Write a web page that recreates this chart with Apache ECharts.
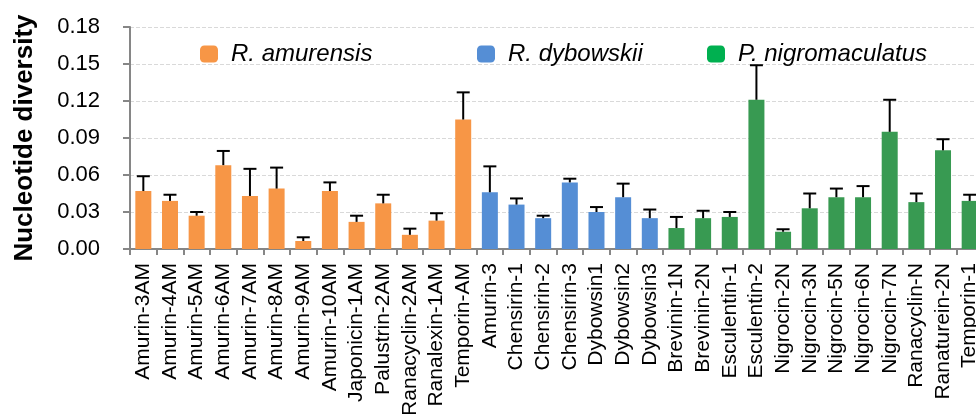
<!DOCTYPE html>
<html>
<head>
<meta charset="utf-8">
<script src="https://cdn.jsdelivr.net/npm/echarts@6/dist/echarts.min.js"></script>
<style>
  html, body { margin: 0; padding: 0; background: #fff; }
  #chart { width: 976px; height: 414px; }
</style>
</head>
<body>
<div id="chart"></div>
<script>
// Antimicrobial peptide genes, grouped by species
const amurensisGenes = ['Amurin-3AM', 'Amurin-4AM', 'Amurin-5AM', 'Amurin-6AM', 'Amurin-7AM', 'Amurin-8AM',
  'Amurin-9AM', 'Amurin-10AM', 'Japonicin-1AM', 'Palustrin-2AM', 'Ranacyclin-2AM', 'Ranalexin-1AM', 'Temporin-AM'];
const dybowskiiGenes = ['Amurin-3', 'Chensirin-1', 'Chensirin-2', 'Chensirin-3', 'Dybowsin1', 'Dybowsin2', 'Dybowsin3'];
const nigroGenes = ['Brevinin-1N', 'Brevinin-2N', 'Esculentin-1', 'Esculentin-2', 'Nigrocin-2N', 'Nigrocin-3N',
  'Nigrocin-5N', 'Nigrocin-6N', 'Nigrocin-7N', 'Ranacyclin-N', 'Ranaturein-2N', 'Temporin-1'];

// Mean nucleotide diversity per gene
const amurensisPi = [0.047, 0.039, 0.027, 0.068, 0.043, 0.049, 0.0065, 0.047, 0.022, 0.037, 0.0115, 0.023, 0.105];
const dybowskiiPi = [0.046, 0.036, 0.025, 0.054, 0.030, 0.042, 0.025];
const nigroPi = [0.017, 0.025, 0.026, 0.121, 0.014, 0.033, 0.042, 0.042, 0.095, 0.038, 0.080, 0.039];

// Upper error (standard deviation) per gene
const amurensisErr = [0.012, 0.005, 0.003, 0.0115, 0.022, 0.017, 0.003, 0.007, 0.005, 0.007, 0.005, 0.006, 0.022];
const dybowskiiErr = [0.021, 0.005, 0.002, 0.003, 0.004, 0.011, 0.007];
const nigroErr = [0.009, 0.006, 0.004, 0.028, 0.002, 0.012, 0.007, 0.009, 0.026, 0.007, 0.009, 0.005];

const speciesNames = ['R. amurensis', 'R. dybowskii', 'P. nigromaculatus'];
const barColors = ['#F79646', '#558ED5', '#389A52'];
const legendColors = ['#F79646', '#558ED5', '#00B050'];

const yTicks = [0, 0.03, 0.06, 0.09, 0.12, 0.15, 0.18];

const groups = [
  { genes: amurensisGenes, pi: amurensisPi, err: amurensisErr },
  { genes: dybowskiiGenes, pi: dybowskiiPi, err: dybowskiiErr },
  { genes: nigroGenes, pi: nigroPi, err: nigroErr }
];
const categories = groups.flatMap(g => g.genes);

// One bar series per species, filled only over that species' genes
let offset = 0;
const barSeries = groups.map((g, gi) => {
  const data = categories.map(() => '-');
  g.pi.forEach((v, i) => { data[offset + i] = v; });
  offset += g.genes.length;
  return {
    name: speciesNames[gi],
    type: 'bar',
    data: data,
    barWidth: 16,
    barGap: '-100%',
    itemStyle: { color: barColors[gi] },
    z: 2
  };
});

// Error bar rows: [category index, mean, mean + err]
const errRows = [];
let k = 0;
groups.forEach(g => {
  g.pi.forEach((v, i) => { errRows.push([k, v, v + g.err[i]]); k++; });
});

const errorSeries = {
  type: 'custom',
  data: errRows,
  z: 3,
  renderItem: function (params, api) {
    const base = api.coord([api.value(0), api.value(1)]);
    const top = api.coord([api.value(0), api.value(2)]);
    const half = 6.5;
    const st = { stroke: '#000', lineWidth: 2 };
    return {
      type: 'group',
      children: [
        { type: 'line', shape: { x1: base[0], y1: base[1], x2: top[0], y2: top[1] }, style: st },
        { type: 'line', shape: { x1: top[0] - half, y1: top[1], x2: top[0] + half, y2: top[1] }, style: st }
      ]
    };
  }
};

const font = 'Arial, "Liberation Sans", sans-serif';

function makeLegend(i, left) {
  return {
    left: left,
    top: 42,
    padding: 0,
    itemWidth: 18,
    itemHeight: 17,
    icon: 'roundRect',
    selectedMode: false,
    data: [{ name: speciesNames[i], itemStyle: { color: legendColors[i] } }],
    textStyle: {
      fontFamily: font,
      fontStyle: 'italic',
      fontSize: 24,
      color: '#000',
      padding: [0, 0, 0, 8]
    }
  };
}

const chart = echarts.init(document.getElementById('chart'), null, { renderer: 'canvas' });
chart.setOption({
  animation: false,
  backgroundColor: '#fff',
  legend: [makeLegend(0, 200), makeLegend(1, 477), makeLegend(2, 707)],
  grid: {
    left: 130,
    right: -7,
    top: 27,
    bottom: 165,
    containLabel: false,
    outerBoundsMode: 'none'
  },
  xAxis: {
    type: 'category',
    data: categories,
    axisLine: { lineStyle: { color: '#868686', width: 2 } },
    axisTick: { show: true, length: 6, lineStyle: { color: '#868686', width: 2 } },
    axisLabel: {
      interval: 0,
      rotate: 90,
      margin: 14,
      fontFamily: font,
      fontSize: 21,
      color: '#000'
    }
  },
  yAxis: {
    type: 'value',
    min: yTicks[0],
    max: yTicks[yTicks.length - 1],
    interval: 0.03,
    name: 'Nucleotide diversity',
    nameLocation: 'middle',
    nameGap: 92,
    nameTextStyle: { fontFamily: font, fontWeight: 'bold', fontSize: 26, color: '#000' },
    axisLine: { show: true, lineStyle: { color: '#868686', width: 2 } },
    axisTick: { show: true, length: 7, lineStyle: { color: '#868686', width: 2 } },
    axisLabel: {
      margin: 30,
      fontFamily: font,
      fontSize: 22,
      color: '#000',
      formatter: v => v.toFixed(2)
    },
    splitLine: { show: true, lineStyle: { color: '#d9d9d9', type: 'dashed', width: 1 } }
  },
  series: [...barSeries, errorSeries]
});
</script>
</body>
</html>
